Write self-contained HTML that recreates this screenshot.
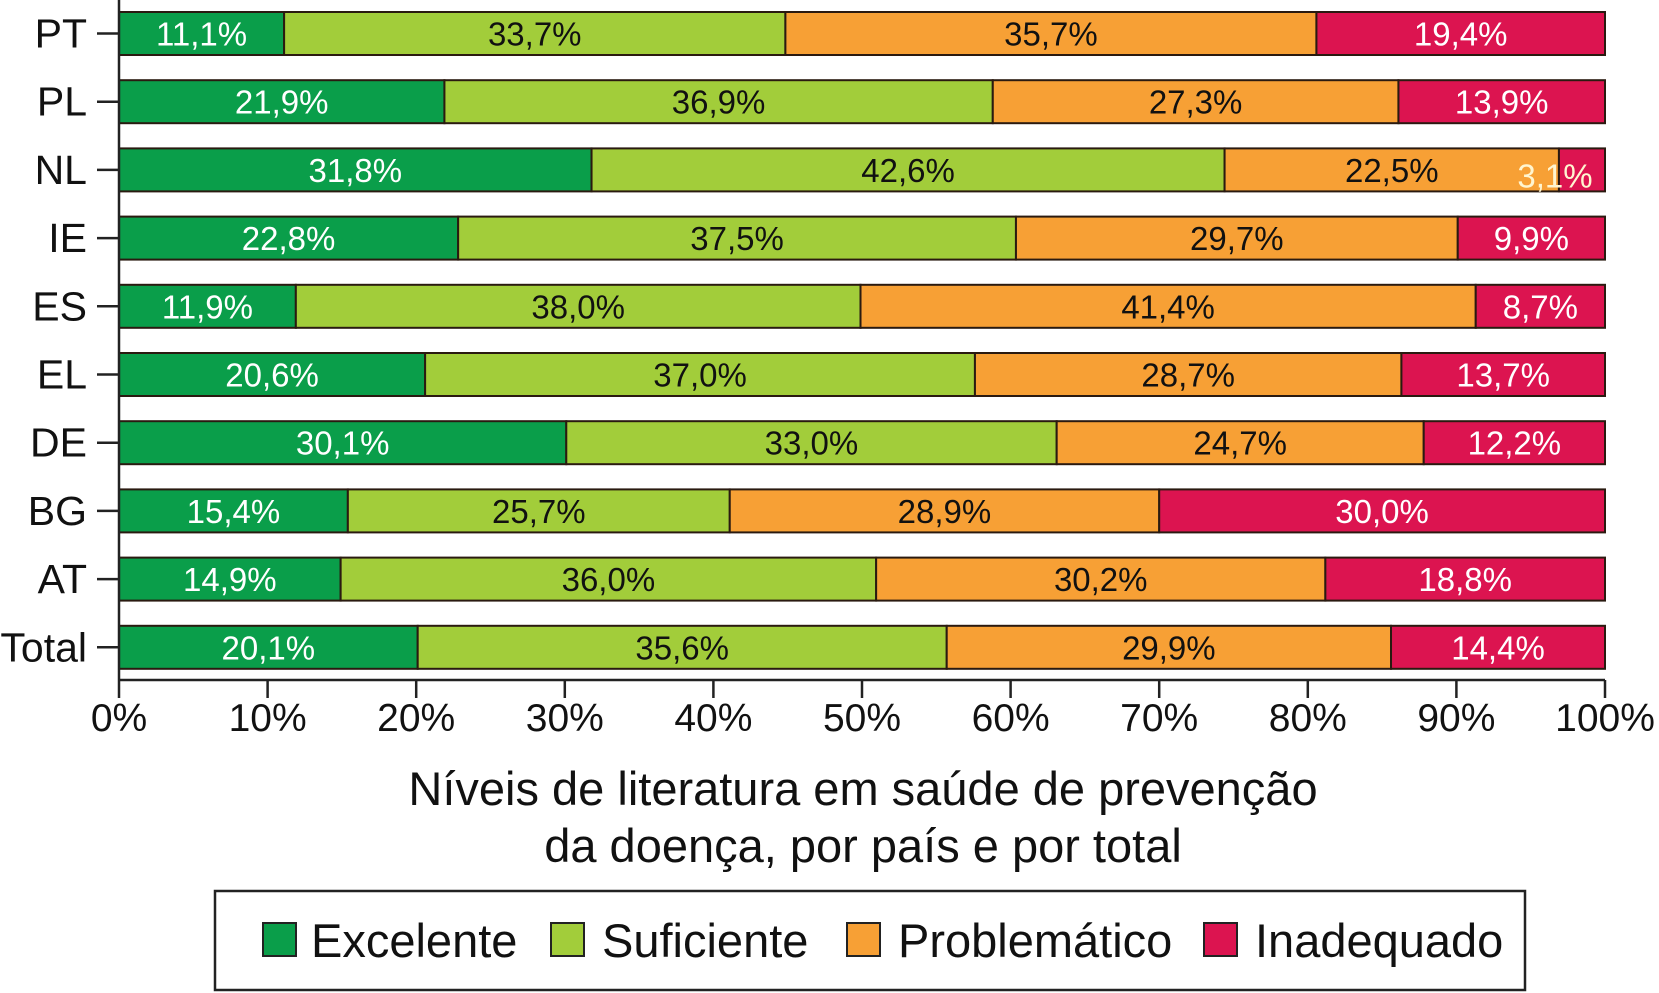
<!DOCTYPE html>
<html><head><meta charset="utf-8"><style>
html,body{margin:0;padding:0;background:#fff}
svg{display:block;font-family:"Liberation Sans",Arial,sans-serif}
</style></head><body>
<svg id="chart" width="1659" height="993" viewBox="0 0 1659 993">
<g id="bars"></g>
<g id="axes"></g>
<text x="863" y="805" text-anchor="middle" font-size="47" fill="#111">Níveis de literatura em saúde de prevenção</text>
<text x="863" y="862" text-anchor="middle" font-size="47" fill="#111">da doença, por país e por total</text>
<g>
<rect x="215" y="891" width="1310" height="99" fill="#fff" stroke="#222" stroke-width="2.5"/>
<g><rect x="263" y="923" width="33" height="33" fill="#0a9e4a" stroke="#222" stroke-width="2"/><text x="311" y="957" font-size="47" fill="#111">Excelente</text></g>
<g><rect x="551" y="923" width="33" height="33" fill="#a2cd3a" stroke="#222" stroke-width="2"/><text x="602" y="957" font-size="47" fill="#111">Suficiente</text></g>
<g><rect x="847" y="923" width="33" height="33" fill="#f7a035" stroke="#222" stroke-width="2"/><text x="898" y="957" font-size="47" fill="#111">Problemático</text></g>
<g><rect x="1204" y="923" width="33" height="33" fill="#dc1450" stroke="#222" stroke-width="2"/><text x="1255" y="957" font-size="47" fill="#111">Inadequado</text></g>
</g>
</svg>
<script>
const categories = ["PT","PL","NL","IE","ES","EL","DE","BG","AT","Total"];
const excelente   = [11.1,21.9,31.8,22.8,11.9,20.6,30.1,15.4,14.9,20.1];
const suficiente  = [33.7,36.9,42.6,37.5,38.0,37.0,33.0,25.7,36.0,35.6];
const problematico= [35.7,27.3,22.5,29.7,41.4,28.7,24.7,28.9,30.2,29.9];
const inadequado  = [19.4,13.9,3.1,9.9,8.7,13.7,12.2,30.0,18.8,14.4];
const xTicks = [0,10,20,30,40,50,60,70,80,90,100];

const NS="http://www.w3.org/2000/svg";
const X0=119, X1=1605, Y0=12, PITCH=68.2, BH=43;
const xs=v=>X0+(X1-X0)*v/100;
const yTop=i=>Y0+i*PITCH;
const series=[
 {name:"excelente",vals:excelente,fill:"#0a9e4a",tc:"#fff"},
 {name:"suficiente",vals:suficiente,fill:"#a2cd3a",tc:"#111"},
 {name:"problematico",vals:problematico,fill:"#f7a035",tc:"#111"},
 {name:"inadequado",vals:inadequado,fill:"#dc1450",tc:"#fff"}];
function mk(tag,attrs,parent){const e=document.createElementNS(NS,tag);for(const k in attrs)e.setAttribute(k,attrs[k]);parent.appendChild(e);return e;}
const bars=document.getElementById('bars'), axes=document.getElementById('axes');
categories.forEach((c,i)=>{
  let cum=0;
  const total=series.reduce((s,se)=>s+se.vals[i],0);
  series.forEach(se=>{
    const v=se.vals[i]*100/total;
    const xa=xs(cum), xb=xs(cum+v);
    const r=mk('rect',{x:xa,y:yTop(i),width:xb-xa,height:BH,fill:se.fill,stroke:'#2a1a10','stroke-width':2},bars);
    
    
    const small = (xb-xa)<60;
    const t=mk('text',{x:small?xb-50:(xa+xb)/2,y:small?yTop(i)+BH-4:yTop(i)+BH/2+12,'text-anchor':'middle','font-size':33,fill:small?'#fff5d0':se.tc},bars);
    t.textContent=se.vals[i].toFixed(1).replace('.',',')+'%';
    
    
    cum+=v;
  });
  const cy=yTop(i)+BH/2;
  mk('line',{x1:X0-22,x2:X0,y1:cy,y2:cy,stroke:'#222','stroke-width':2.5},axes);
  const lt=mk('text',{x:X0-32,y:cy+14,'text-anchor':'end','font-size':41,fill:'#111'},axes);
  lt.textContent=c;
  
  
});
const AY=680;
mk('line',{x1:X0,x2:X0,y1:0,y2:AY,stroke:'#222','stroke-width':2.5},axes);
mk('line',{x1:X0,x2:X1,y1:AY,y2:AY,stroke:'#222','stroke-width':2.5},axes);
xTicks.forEach(v=>{
  mk('line',{x1:xs(v),x2:xs(v),y1:AY,y2:AY+18,stroke:'#222','stroke-width':2.5},axes);
  const t=mk('text',{x:xs(v),y:AY+51,'text-anchor':'middle','font-size':39,fill:'#111'},axes);
  t.textContent=v+'%';
  
  
});
</script>
</body></html>
